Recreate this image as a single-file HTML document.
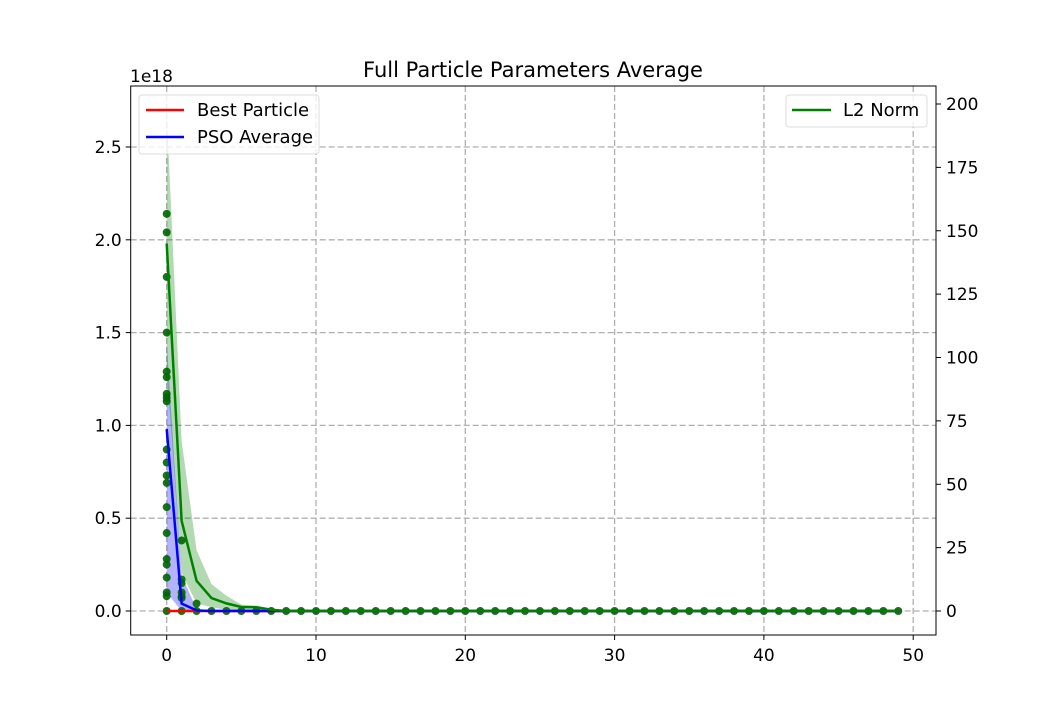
<!DOCTYPE html>
<html><head><meta charset="utf-8"><style>
body{margin:0;background:#fff}
svg text{font-family:"DejaVu Sans","Liberation Sans",sans-serif;fill:#000}
</style></head><body>
<svg width="1040" height="715" viewBox="0 0 1040 715">
<g id="grid"></g><g id="bands"></g><g id="dots"></g><g id="lines"></g><g id="axes"></g><g id="legend"></g>
</svg>
<script>
const iterations = Array.from({length:50},(_,i)=>i);
const bestParticle = new Array(50).fill(0);
const psoAvg = [0.98,0.04,0.003].concat(new Array(47).fill(0));
const psoUpper = [1.45,0.19,0.01].concat(new Array(47).fill(0));
const psoLower = [0.1,0,0].concat(new Array(47).fill(0));
const l2Norm = [145,35.6,11.9,5.1,3,1.6,1.5,0.5].concat(new Array(42).fill(0));
const l2Upper = [197,67,24,10.6,6,2.5,2,1,0.5].concat(new Array(41).fill(0));
const l2Lower = [95,15,3,1.5,0.5].concat(new Array(45).fill(0));
const dots0 = [2.14,2.04,1.8,1.5,1.29,1.26,1.17,1.15,1.13,0.87,0.8,0.73,0.69,0.56,0.42,0.28,0.25,0.18,0.1,0.08,0];
const dots1 = [0.38,0.17,0.15,0.1,0.08,0.07,0];
const dots2 = [0.04,0];
const xTicks=[0,10,20,30,40,50];
const yTicks=[0,0.5,1.0,1.5,2.0,2.5];
const y2Ticks=[0,25,50,75,100,125,150,175,200];
const L=130.7,R=936,T=86,B=635;
const X=v=>166.7+v*14.93;
const Y=v=>611-v*185.6;
const Y2=v=>611-v*2.535;
const NS="http://www.w3.org/2000/svg";
function mk(p,tag,a){const e=document.createElementNS(NS,tag);for(const k in a)e.setAttribute(k,a[k]);p.appendChild(e);return e;}
const g=id=>document.getElementById(id);
xTicks.forEach(t=>{const e=mk(g('grid'),'line',{x1:X(t),x2:X(t),y1:T,y2:B,stroke:'#b0b0b0','stroke-dasharray':'6,3','stroke-width':1.3});

});
yTicks.forEach(t=>{const e=mk(g('grid'),'line',{x1:L,x2:R,y1:Y(t),y2:Y(t),stroke:'#b0b0b0','stroke-dasharray':'6,3','stroke-width':1.3});

});
function band(up,lo,fy,col,name){let d='';iterations.forEach((x,i)=>d+=(i?'L':'M')+X(x)+','+fy(up[i]));for(let i=iterations.length-1;i>=0;i--)d+='L'+X(iterations[i])+','+fy(lo[i]);
const e=mk(g('bands'),'path',{d:d+'Z',fill:col,'fill-opacity':0.3});

}
band(psoUpper,psoLower,Y,'blue','pso-band');
band(l2Upper,l2Lower,Y2,'green','l2-band');
function line(vals,fy,col,name){const pts=iterations.map((x,i)=>X(x)+','+fy(vals[i])).join(' ');
const e=mk(g('lines'),'polyline',{points:pts,fill:'none',stroke:col,'stroke-width':2.5});

}
line(bestParticle,Y,'red','best-particle-line');
line(psoAvg,Y,'blue','pso-average-line');
line(l2Norm,Y2,'green','l2-norm-line');
function dots(x,arr){arr.forEach(v=>{const e=mk(g('dots'),'circle',{cx:X(x),cy:Y(v),r:4,fill:'#006400','fill-opacity':0.9});

});}
dots(0,dots0);dots(1,dots1);dots(2,dots2);
for(let i=3;i<50;i++)dots(i,[0]);
const ax=g('axes');
let e=mk(ax,'rect',{x:L,y:T,width:R-L,height:B-T,fill:'none',stroke:'#000','stroke-width':1});


xTicks.forEach(t=>{mk(ax,'line',{x1:X(t),x2:X(t),y1:B,y2:B+5,stroke:'#000'});
const tx=mk(ax,'text',{x:X(t),y:B+26,'font-size':17,'text-anchor':'middle'});tx.textContent=t;

});
yTicks.forEach(t=>{mk(ax,'line',{x1:L-5,x2:L,y1:Y(t),y2:Y(t),stroke:'#000'});
const tx=mk(ax,'text',{x:L-9,y:Y(t)+6,'font-size':17,'text-anchor':'end'});tx.textContent=t.toFixed(1);

});
y2Ticks.forEach(t=>{mk(ax,'line',{x1:R,x2:R+5,y1:Y2(t),y2:Y2(t),stroke:'#000'});
const tx=mk(ax,'text',{x:R+10,y:Y2(t)+6,'font-size':17});tx.textContent=t;

});
</script>
<svg style="position:absolute;left:0;top:0" width="1040" height="715">
<text x="533" y="77" font-size="21" text-anchor="middle">Full Particle Parameters Average</text>
<text x="130" y="82" font-size="17">1e18</text>
<g>
<rect x="139" y="95" width="180" height="59" rx="3" fill="#fff" fill-opacity="0.8" stroke="#ddd"/>
<line x1="146" x2="184" y1="110" y2="110" stroke="red" stroke-width="2.5"/>
<text x="197" y="116" font-size="18">Best Particle</text>
<line x1="146" x2="184" y1="137" y2="137" stroke="blue" stroke-width="2.5"/>
<text x="197" y="143" font-size="18">PSO Average</text>
</g>
<g>
<rect x="786" y="95" width="141" height="32" rx="3" fill="#fff" fill-opacity="0.8" stroke="#ddd"/>
<line x1="792" x2="831" y1="110" y2="110" stroke="green" stroke-width="2.5"/>
<text x="843" y="116" font-size="18">L2 Norm</text>
</g>
</svg>
</body></html>
